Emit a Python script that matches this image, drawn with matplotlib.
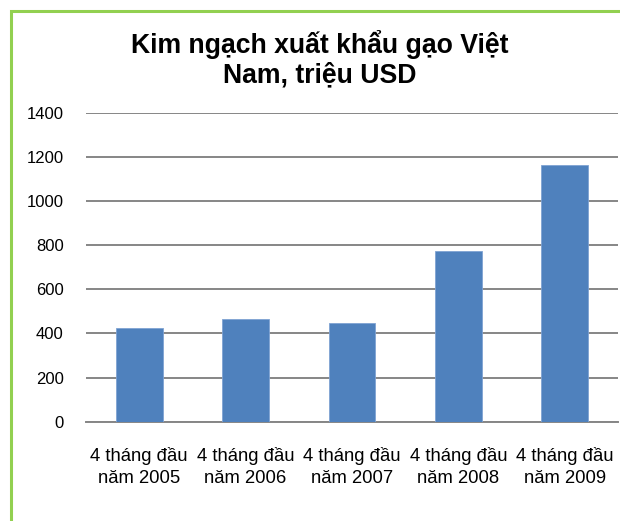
import matplotlib
matplotlib.use("Agg")
import matplotlib.pyplot as plt
from matplotlib.patches import Rectangle

# data
categories = ["4 tháng đầu\nnăm 2005", "4 tháng đầu\nnăm 2006", "4 tháng đầu\nnăm 2007",
              "4 tháng đầu\nnăm 2008", "4 tháng đầu\nnăm 2009"]
values = [423, 466, 446, 775, 1162]
yticks = [0, 200, 400, 600, 800, 1000, 1200, 1400]
title = "Kim ngạch xuất khẩu gạo Việt\nNam, triệu USD"

plt.rcParams["font.family"] = ["Liberation Sans", "DejaVu Sans"]

W, H = 620, 521
fig = plt.figure(figsize=(W / 100, H / 100), dpi=100)
fig.patch.set_facecolor("white")

# green chart-area frame (cropped on right/bottom)
fig.patches.append(Rectangle((10.5 / W, -0.1), 1.2, (H - 11) / H + 0.1,
                             transform=fig.transFigure, fill=False,
                             edgecolor="#92D050", lw=2.2))

ax = fig.add_axes([86 / W, (H - 421.7) / H, 532 / W, 309 / H])
x = range(len(values))
ax.bar(x, values, width=0.44, color="#4F81BD", edgecolor="#7FA3D3", lw=0.6, zorder=3)
ax.set_xlim(-0.5, len(values) - 0.5)
ax.set_ylim(0, 1400)
ax.set_yticks(yticks)
ax.set_yticklabels([str(t) for t in yticks], fontsize=12)
ax.set_xticks(list(x))
ax.set_xticklabels(categories, fontsize=13.3, linespacing=1.38)
ax.yaxis.grid(True, color="#868686", lw=1.4, zorder=1)
for s in ["left", "right", "top"]:
    ax.spines[s].set_visible(False)
ax.spines["bottom"].set_color("#868686")
ax.spines["bottom"].set_linewidth(1.4)
ax.tick_params(axis="y", length=0, pad=16)
ax.tick_params(axis="x", length=0, pad=18)

fig.text(320 / W, 1 - 59 / H, title, ha="center", va="center",
         fontsize=19.2, fontweight="bold", linespacing=1.16)

fig.savefig("out.png", dpi=100)
